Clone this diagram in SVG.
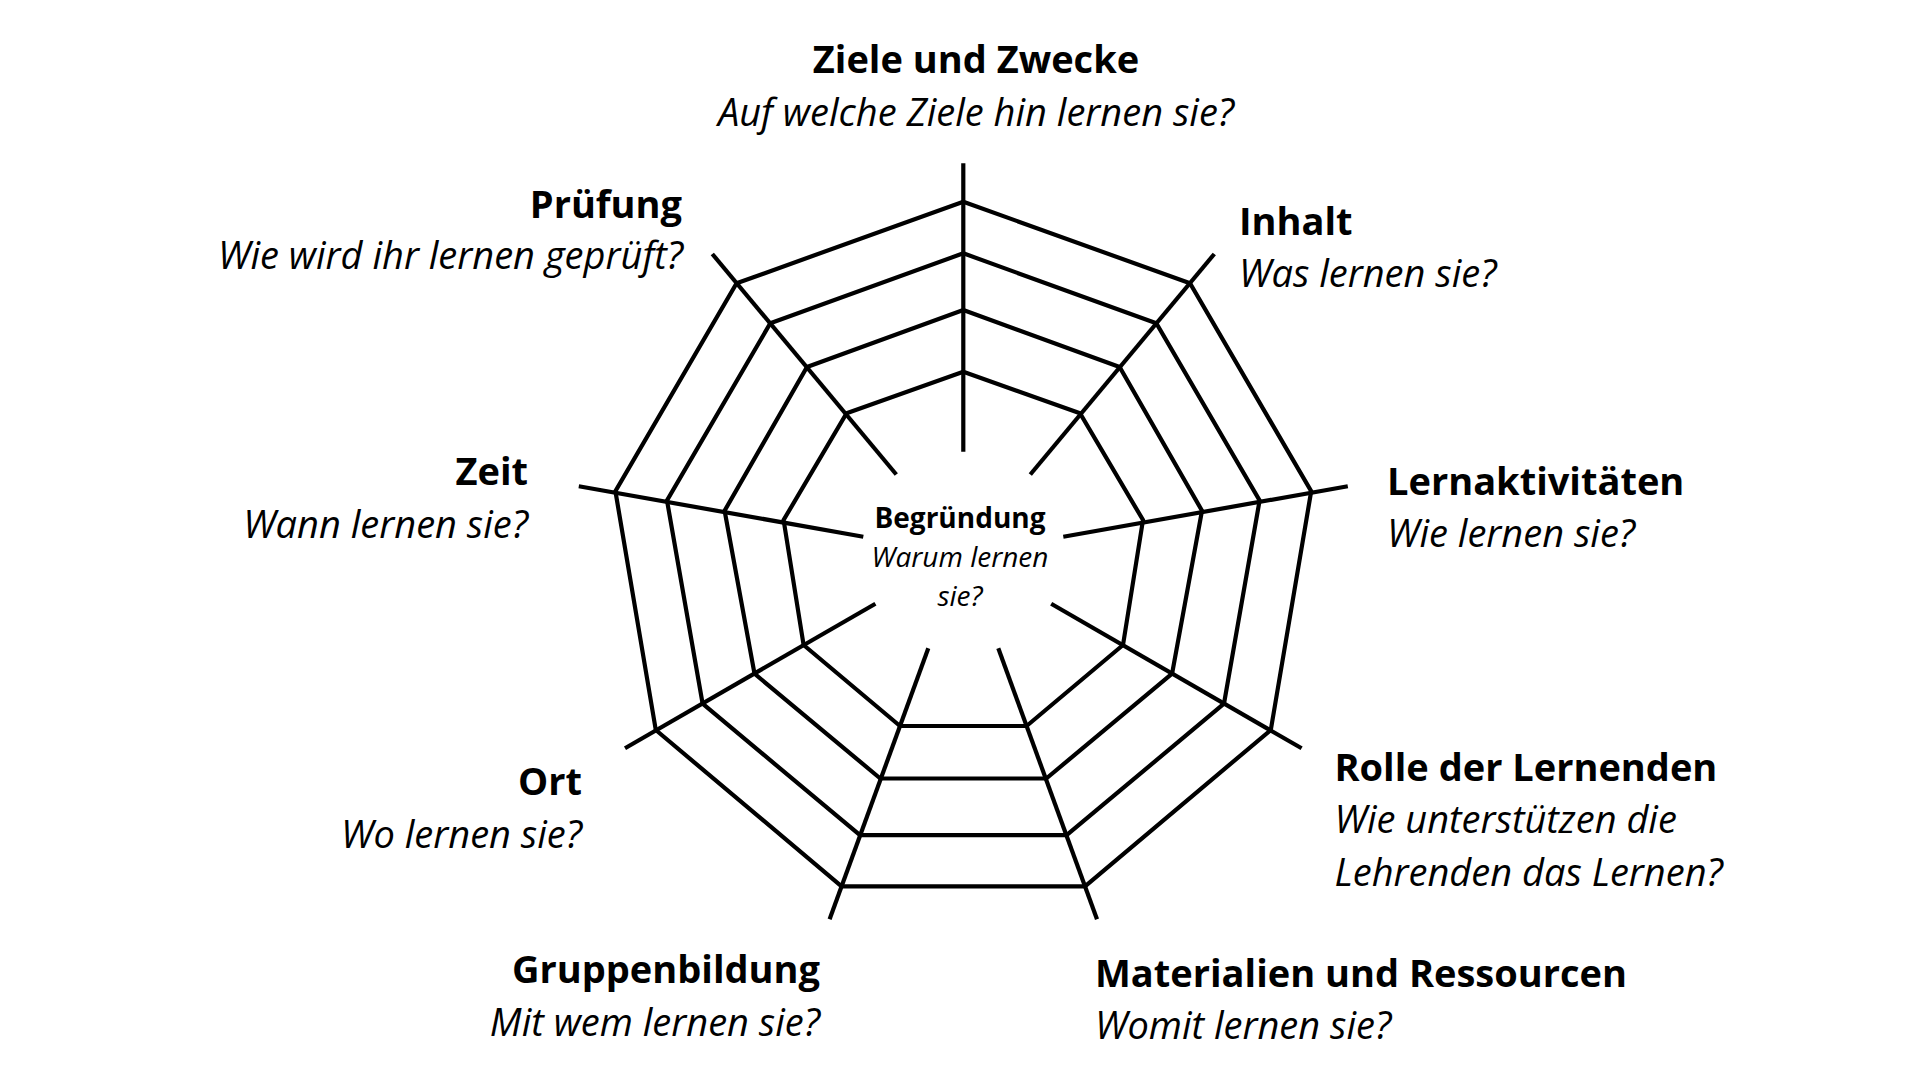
<svg xmlns="http://www.w3.org/2000/svg" width="1920" height="1080" viewBox="0 0 1920 1080">
<style>
.w{fill:none;stroke:#000;stroke-width:4.2;stroke-linejoin:miter}
.s{stroke:#000;stroke-width:4.2;stroke-linecap:butt}
text{font-family:"Open Sans","Noto Sans","DejaVu Sans",sans-serif;fill:#000}
.t{font-weight:700;font-size:38px}
.q{font-style:italic;font-size:38px}
.ct{font-weight:700;font-size:28px}
.cq{font-style:italic;font-size:28px}
.m{text-anchor:middle}
.e{text-anchor:end}
</style>
<rect width="1920" height="1080" fill="#fff"/>
<g id="connectors">
<polygon class="w" points="963.3,371.7 1080,413.3 1143,520 1123,645 1026.6,726 900,726 803.6,645 783.6,520 846.6,413.3"/>
<polygon class="w" points="963.3,310 1119.6,367 1202,510.7 1172.1,673.7 1046.3,778.5 880.3,778.5 754.5,673.7 724.6,510.7 807,367"/>
<polygon class="w" points="963.3,253.3 1156.3,323.3 1259.6,500.5 1224,703.7 1066.6,835.2 860,835.2 702.6,703.7 667,500.5 770.3,323.3"/>
<polygon class="w" points="963.3,201.7 1190,283.3 1311.2,491.2 1270.8,730 1085,886.3 841.6,886.3 655.8,730 615.4,491.2 736.6,283.3"/>
<line class="s" x1="963.3" y1="163.3" x2="963.3" y2="451.7"/>
<line class="s" x1="1214.3" y1="254" x2="1030.3" y2="474.5"/>
<line class="s" x1="1347.8" y1="486.3" x2="1063.3" y2="536.7"/>
<line class="s" x1="1301.6" y1="748.3" x2="1051.2" y2="603.7"/>
<line class="s" x1="1097" y1="919.3" x2="998.3" y2="648.3"/>
<line class="s" x1="829.6" y1="919.3" x2="928.3" y2="648.3"/>
<line class="s" x1="625" y1="748.3" x2="875.4" y2="603.7"/>
<line class="s" x1="578.8" y1="486.3" x2="863.3" y2="536.7"/>
<line class="s" x1="712.3" y1="254" x2="896.3" y2="474.5"/>
</g>
<g id="begruendung">
<text class="ct m" x="960" y="528">Begründung</text>
<text class="cq m" x="960" y="566.5">Warum lernen</text>
<text class="cq m" x="960" y="605.5">sie?</text>
</g>
<g id="ziele">
<text class="t m" x="976" y="73">Ziele und Zwecke</text>
<text class="q m" x="976" y="125.5">Auf welche Ziele hin lernen sie?</text>
</g>
<g id="inhalt">
<text class="t" x="1239" y="235">Inhalt</text>
<text class="q" x="1239" y="287">Was lernen sie?</text>
</g>
<g id="lernaktivitaeten">
<text class="t" x="1387" y="495">Lernaktivitäten</text>
<text class="q" x="1387" y="547">Wie lernen sie?</text>
</g>
<g id="rolle">
<text class="t" x="1334.5" y="780.5">Rolle der Lernenden</text>
<text class="q" x="1334.5" y="832.5">Wie unterstützen die</text>
<text class="q" x="1334.5" y="885.5">Lehrenden das Lernen?</text>
</g>
<g id="materialien">
<text class="t" x="1095" y="986.5">Materialien und Ressourcen</text>
<text class="q" x="1095" y="1039">Womit lernen sie?</text>
</g>
<g id="gruppenbildung">
<text class="t e" x="820" y="983">Gruppenbildung</text>
<text class="q e" x="820" y="1036">Mit wem lernen sie?</text>
</g>
<g id="ort">
<text class="t e" x="582" y="795">Ort</text>
<text class="q e" x="582" y="847.5">Wo lernen sie?</text>
</g>
<g id="zeit">
<text class="t e" x="528" y="485">Zeit</text>
<text class="q e" x="528" y="538">Wann lernen sie?</text>
</g>
<g id="pruefung">
<text class="t e" x="682" y="218">Prüfung</text>
<text class="q e" x="683" y="269">Wie wird ihr lernen geprüft?</text>
</g>
</svg>
